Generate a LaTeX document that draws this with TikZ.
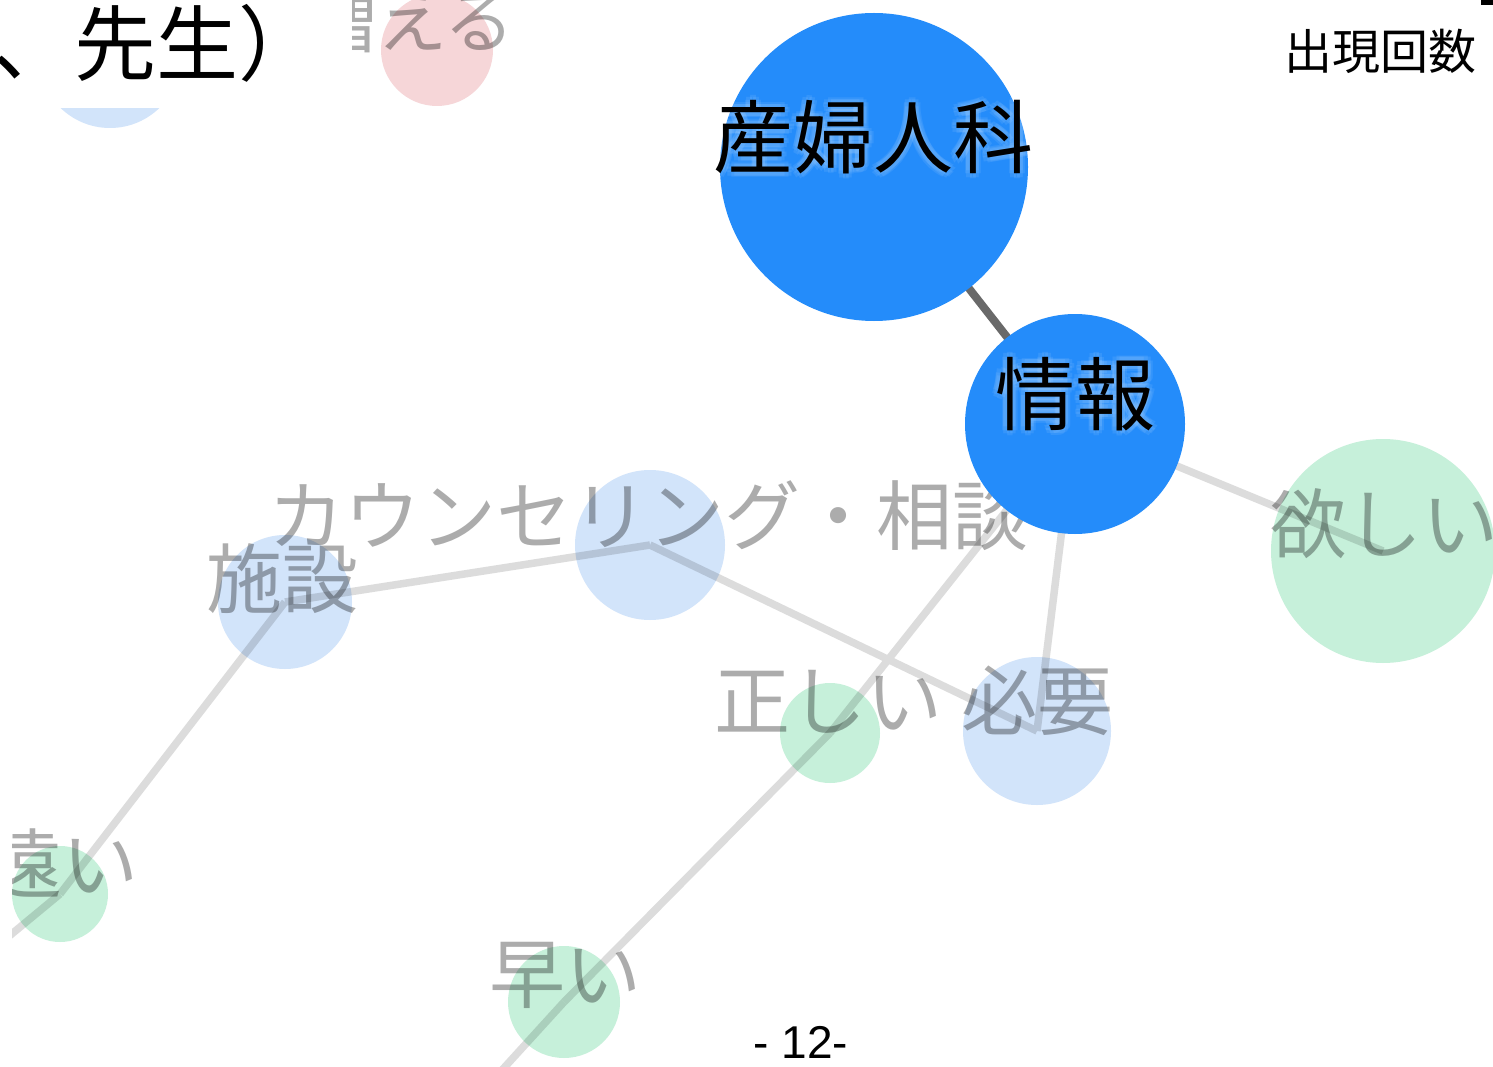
\documentclass[tikz,border=0pt]{standalone}
\usepackage{fontspec}
\setmainfont{Liberation Sans}
\newfontfamily\cjk{Noto Sans CJK JP}
\definecolor{hiblue}{RGB}{36,140,250}
\definecolor{fblue}{RGB}{210,228,250}
\definecolor{fgreen}{RGB}{198,240,218}
\definecolor{fpink}{RGB}{246,214,216}
\definecolor{fedge}{RGB}{220,220,220}
\definecolor{ftext}{RGB}{172,172,172}
\definecolor{hedge}{RGB}{105,105,105}
\tikzset{
  fadeedge/.style={draw=fedge, line width=7.5pt},
  hiedge/.style={draw=hedge, line width=8pt},
  fcircle/.style={circle, inner sep=0pt, minimum size=#1},
  bluenode/.style={fcircle=#1, fill=fblue},
  greennode/.style={fcircle=#1, fill=fgreen},
  pinknode/.style={fcircle=#1, fill=fpink},
  hinode/.style={circle, inner sep=0pt, minimum size=#1, fill=hiblue},
  lbl/.style={font=\cjk\fontsize{76}{80}\selectfont, text=ftext, inner sep=0pt, anchor=base},
  hilbl/.style={font=\cjk\fontsize{80}{84}\selectfont, text=black, inner sep=0pt, anchor=base},
  glowlbl/.style={font=\cjk\fontsize{80}{84}\selectfont, text=white, opacity=0.08, inner sep=0pt, anchor=base}
}
\begin{document}
\begin{tikzpicture}[x=1pt,y=-1pt]
\fill[white] (0,0) rectangle (1493,1067);
\useasboundingbox (0,0) rectangle (1493,1067);

% centres
\coordinate (sanfu) at (874,167);
\coordinate (joho) at (1075,424);
\coordinate (hoshii) at (1383,551);
\coordinate (hitsuyo) at (1037,731);
\coordinate (tadashii) at (830,733);
\coordinate (counsel) at (650,545);
\coordinate (shisetsu) at (285,602);
\coordinate (toi) at (60,894);
\coordinate (hayai) at (564,1002);
\coordinate (offA) at (472,1103);
\coordinate (offB) at (-50,985);
\coordinate (tlblue) at (110,57);
\coordinate (fueru) at (437,50);

% faded edges
\draw[fadeedge] (joho) -- (hoshii);
\draw[fadeedge] (joho) -- (hitsuyo);
\draw[fadeedge] (joho) -- (tadashii);
\draw[fadeedge] (tadashii) -- (hayai);
\draw[fadeedge] (hayai) -- (offA);
\draw[fadeedge] (counsel) -- (shisetsu);
\draw[fadeedge] (counsel) -- (hitsuyo);
\draw[fadeedge] (shisetsu) -- (toi);
\draw[fadeedge] (toi) -- (offB);

% faded nodes
\begin{scope}[blend mode=multiply]
\node[bluenode=142pt] (tlblue-c) at (tlblue) {};
\node[pinknode=112pt] (fueru-c) at (fueru) {};
\node[greennode=224pt] (hoshii-c) at (hoshii) {};
\node[bluenode=148pt] (hitsuyo-c) at (hitsuyo) {};
\node[greennode=100pt] (tadashii-c) at (tadashii) {};
\node[bluenode=150pt] (counsel-c) at (counsel) {};
\node[bluenode=134pt] (shisetsu-c) at (shisetsu) {};
\node[greennode=96pt] (toi-c) at (toi) {};
\node[greennode=112pt] (hayai-c) at (hayai) {};

\node[lbl] (counsel-l) at (648,544) {カウンセリング・相談};
\node[lbl] (shisetsu-l) at (282,607) {施設};
\node[lbl] (tadashii-l) at (828,729) {正しい};
\node[lbl] (hitsuyo-l) at (1037,729) {必要};
\node[lbl] (hoshii-l) at (1384,552) {欲しい};
\node[lbl] (toi-l) at (63,892) {遠い};
\node[lbl] (hayai-l) at (565,1002) {早い};
\node[lbl, font=\cjk\fontsize{70}{74}\selectfont] (fueru-l) at (411,48) {増える};
\end{scope}

% covers of the slide
\fill[white] (-2,-2) rectangle (352,108);
\fill[white] (-2,108) rectangle (12,1070);

\node[font=\cjk\fontsize{82}{86}\selectfont, anchor=base west, inner sep=0pt] (title) at (-8,75) {、先生）};

% highlighted part
\draw[hiedge] (sanfu) -- (joho);
\node[hinode=308pt] (sanfu-c) at (sanfu) {};
\node[hinode=220pt] (joho-c) at (joho) {};
\foreach \a in {0,45,...,315}{
  \node[glowlbl] (gs\a) at ([shift={(\a:5)}]873,168) {産婦人科};
  \node[glowlbl] (gj\a) at ([shift={(\a:5)}]1075,424) {情報};
}
\node[hilbl] (sanfu-l) at (873,168) {産婦人科};
\node[hilbl] (joho-l) at (1075,424) {情報};

\node[font=\cjk\fontsize{48}{52}\selectfont, anchor=base, inner sep=0pt] (legend) at (1380,70) {出現回数};
\fill[black] (1481,0) rectangle (1493,5);
\node[font=\fontsize{46}{50}\selectfont, anchor=base, inner sep=0pt] (page) at (801,1058) {- 12-};
\end{tikzpicture}
\end{document}
